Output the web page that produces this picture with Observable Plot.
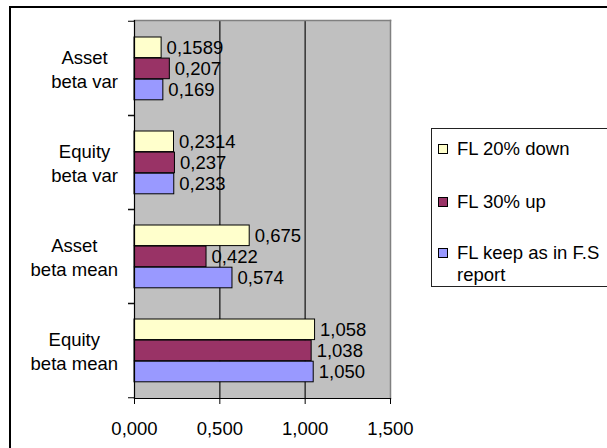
<!DOCTYPE html>
<html>
<head>
<meta charset="utf-8">
<script src="https://cdn.jsdelivr.net/npm/d3@7"></script>
<script src="https://cdn.jsdelivr.net/npm/@observablehq/plot@0.6"></script>
<style>
  html, body { margin: 0; padding: 0; background: #fff; overflow: hidden; }
  #wrap { position: relative; width: 607px; height: 448px; overflow: hidden;
          font-family: "Liberation Sans", Arial, sans-serif; }
  #border { position: absolute; left: 9px; top: 6px; width: 700px; height: 600px;
            border: 2px solid #000; box-sizing: border-box; }
  #chart { position: absolute; left: 0; top: 0; }
  #legend { position: absolute; left: 431px; top: 128px; width: 220px; height: 159px;
            border: 1px solid #222; box-sizing: border-box; background: #fff; }
  .item { position: absolute; left: 6px; display: flex; align-items: flex-start;
          font-size: 18.5px; line-height: 22px; color: #000; }
  .swatch { width: 8px; height: 8px; border: 1px solid #000; margin-top: 6px; margin-right: 9px; flex: none; }
  .item span { width: 152px; }
</style>
</head>
<body>
<div id="wrap">
  <div id="border"></div>
  <div id="chart"></div>
  <div id="legend"></div>
</div>
<script>
// Categories (top to bottom) and their two-line axis labels
const categories = ["Asset beta var", "Equity beta var", "Asset beta mean", "Equity beta mean"];
const categoryLabels = ["Asset\nbeta var", "Equity\nbeta var", "Asset\nbeta mean", "Equity\nbeta mean"];

// Series
const seriesNames = ["FL 20% down", "FL 30% up", "FL keep as in F.S report"];
const seriesColors = ["#FFFFCC", "#993366", "#9999FF"];
const down20 = [0.1589, 0.2314, 0.675, 1.058];
const up30 = [0.207, 0.237, 0.422, 1.038];
const keepFS = [0.169, 0.233, 0.574, 1.050];
const seriesValues = [down20, up30, keepFS];

// X axis ticks
const xTicks = [0, 0.5, 1, 1.5];

// Decimal comma formatting, at least three decimals
function fmt(v) {
  const s = String(v);
  const dec = s.includes(".") ? s.split(".")[1].length : 0;
  return v.toFixed(Math.max(3, dec)).replace(".", ",");
}

const W = 607, H = 448;
const mTop = 20, mBottom = 50, mLeft = 134, mRight = 217;
const fontSize = 18.5;
const fontFamily = '"Liberation Sans", Arial, sans-serif';
const bw = (H - mTop - mBottom) / categories.length;   // band height
const outer = 16, barH = 21.1;                          // bar layout within a band

const rows = seriesNames.map((s, i) =>
  categories.map((c, j) => ({category: c, series: s, value: seriesValues[i][j]}))
);

// Measure the widest line of each category label so the lines centre on a common right edge
const ctx = document.createElement("canvas").getContext("2d");
ctx.font = `${fontSize}px "Liberation Sans"`;
const labelRight = 117.5;

const marks = [
  Plot.frame({fill: "#C0C0C0", stroke: null}),
  Plot.ruleX([0.5, 1], {stroke: "#333", strokeWidth: 1.5}),
  Plot.frame({anchor: "top", stroke: "#808080", strokeWidth: 1.5}),
  Plot.frame({anchor: "right", stroke: "#808080", strokeWidth: 1.5})
];

rows.forEach((data, i) => {
  const top = outer + i * barH;
  marks.push(Plot.barX(data, {
    x: "value", y: "category",
    fill: seriesColors[i], stroke: "#000", strokeWidth: 1,
    insetTop: top, insetBottom: bw - top - barH
  }));
});

rows.forEach((data, i) => {
  const centre = outer + (i + 0.5) * barH;
  marks.push(Plot.text(data, {
    x: "value", y: "category", text: d => fmt(d.value),
    dx: 5, dy: centre - bw / 2, textAnchor: "start",
    fontSize, fill: "#000"
  }));
});

// Axis lines and boundary ticks
marks.push(
  Plot.frame({anchor: "left", stroke: "#000", strokeWidth: 1.2}),
  Plot.frame({anchor: "bottom", stroke: "#000", strokeWidth: 1.2}),
  Plot.axisY({tickSize: 6, text: null, label: null, dy: -bw / 2, stroke: "#000"}),
  Plot.axisY({tickSize: 6, text: null, label: null, dy: bw / 2, stroke: "#000"}),
  Plot.axisX(xTicks, {tickSize: 6, tickPadding: 17, label: null,
                      tickFormat: d => d.toFixed(3).replace(".", ","),
                      fontSize, stroke: "#000", fill: "#000"})
);

categories.forEach((c, j) => {
  const lab = categoryLabels[j];
  const w = Math.max(...lab.split("\n").map(l => ctx.measureText(l).width));
  marks.push(Plot.text([c], {
    y: d => d, text: () => lab, frameAnchor: "left",
    dx: labelRight - w / 2 - mLeft, textAnchor: "middle", lineAnchor: "middle",
    lineHeight: 1.3, fontSize, fill: "#000"
  }));
});

const chart = Plot.plot({
  width: W, height: H,
  marginTop: mTop, marginBottom: mBottom, marginLeft: mLeft, marginRight: mRight,
  x: {domain: [0, 1.5], axis: null, label: null},
  y: {domain: categories, padding: 0, axis: null, label: null},
  style: {fontFamily, fontSize: fontSize + "px", color: "#000", background: "transparent", overflow: "visible"},
  marks
});
document.getElementById("chart").appendChild(chart);

// Legend
const legend = document.getElementById("legend");
const rowTops = [9, 62, 113];
seriesNames.forEach((s, i) => {
  const item = document.createElement("div");
  item.className = "item";
  item.style.top = rowTops[i] + "px";
  const sw = document.createElement("div");
  sw.className = "swatch";
  sw.style.background = seriesColors[i];
  const t = document.createElement("span");
  t.textContent = s;
  item.appendChild(sw);
  item.appendChild(t);
  legend.appendChild(item);
});
</script>
</body>
</html>
